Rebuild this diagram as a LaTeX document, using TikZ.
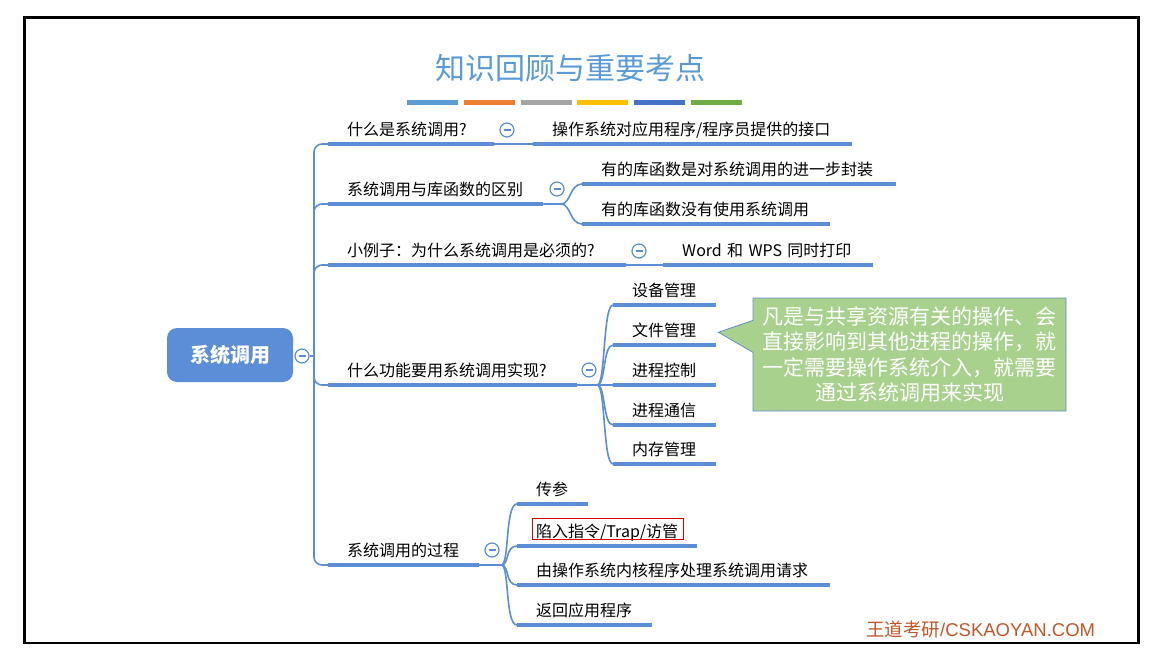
\documentclass[tikz,border=0pt]{standalone}
\usepackage{fontspec}
\setmainfont{Noto Sans CJK SC}
\newfontfamily\latinfont{Liberation Sans}
\usetikzlibrary{shapes.callouts}
\definecolor{linkblue}{RGB}{91,142,214}
\definecolor{titleblue}{HTML}{5B9BD5}
\definecolor{barorange}{HTML}{ED7D31}
\definecolor{bargray}{HTML}{A5A5A5}
\definecolor{baryellow}{HTML}{FFC000}
\definecolor{bardarkblue}{HTML}{4472C4}
\definecolor{bargreen}{HTML}{70AD47}
\definecolor{notegreen}{HTML}{A9D18E}
\definecolor{noteedge}{RGB}{100,140,200}
\definecolor{markred}{RGB}{195,85,40}

\begin{document}
\begin{tikzpicture}[x=1pt, y=-1pt,
  uline/.style={linkblue, line width=4pt},
  link/.style={linkblue, line width=1.6pt},
  topic/.style={anchor=south west, inner xsep=19pt, inner ysep=5pt,
    text height=12pt, text depth=3pt, text width=#1, align=left,
    font=\fontsize{16}{19}\selectfont, text=black,
    append after command={(\tikzlastnode.south west) edge[uline] (\tikzlastnode.south east)}},
  fold/.style={circle, draw=linkblue, fill=white, line width=1.2pt,
    minimum size=14pt, inner sep=0pt,
    path picture={\draw[linkblue, line width=1.2pt]
      ([xshift=-3.5pt]path picture bounding box.center) -- ([xshift=3.5pt]path picture bounding box.center);}}]
  \useasboundingbox (0,0) rectangle (1162,650);
  \draw[line width=2.7pt] (24.5,17.8) rectangle (1138.5,643);

  % title and colour bars
  \node[font=\fontsize{30}{36}\selectfont, text=titleblue] (title) at (570,68) {知识回顾与重要考点};
  \fill[titleblue] (407,100.5) rectangle ++(51,5);
  \fill[barorange] (463.8,100.5) rectangle ++(51,5);
  \fill[bargray] (520.6,100.5) rectangle ++(51,5);
  \fill[baryellow] (577.4,100.5) rectangle ++(51,5);
  \fill[bardarkblue] (634.2,100.5) rectangle ++(51,5);
  \fill[bargreen] (691,100.5) rectangle ++(51,5);

  % root
  \node[fill=linkblue, rounded corners=10pt, minimum width=126pt, minimum height=54pt,
    text=white, font=\fontsize{20}{24}\selectfont\bfseries] (root) at (230,355) {系统调用};
  \node[fold] (c0) at (302,356) {};
  \coordinate (tk) at (314,356);

  % first level
  \node[topic=128pt] (q1) at (328,144) {什么是系统调用?};
  \node[topic=177pt] (q2) at (328,204) {系统调用与库函数的区别};
  \node[topic=260pt] (q3) at (328,265) {小例子：为什么系统调用是必须的?};
  \node[topic=211pt] (q4) at (328,385) {什么功能要用系统调用实现?};
  \node[topic=113pt] (q5) at (328,565) {系统调用的过程};
  \draw[link] (c0.east) -- (tk);
  \draw[link, rounded corners=8pt] (tk) |- (q1.south west);
  \draw[link, rounded corners=8pt] (tk) |- (q2.south west);
  \draw[link, rounded corners=8pt] (tk) |- (q3.south west);
  \draw[link, rounded corners=8pt] (tk) |- (q4.south west);
  \draw[link, rounded corners=8pt] (tk) |- (q5.south west);

  % second level
  \node[topic=281pt] (a1) at (533,144) {操作系统对应用程序/程序员提供的接口};
  \node[topic=276pt] (b1) at (582,184) {有的库函数是对系统调用的进一步封装};
  \node[topic=210pt] (b2) at (582,224) {有的库函数没有使用系统调用};
  \node[topic=172pt] (e1) at (663,265) {Word 和 WPS 同时打印};
  \node[topic=65pt] (f1) at (613,305) {设备管理};
  \node[topic=65pt] (f2) at (613,345) {文件管理};
  \node[topic=65pt] (f3) at (613,385) {进程控制};
  \node[topic=65pt] (f4) at (613,425) {进程通信};
  \node[topic=65pt] (f5) at (613,464) {内存管理};
  \node[topic=33pt] (p1) at (517,504) {传参};
  \node[topic=142pt] (p2) at (517,546) {陷入指令/Trap/访管};
  \node[topic=275pt] (p3) at (517,585) {由操作系统内核程序处理系统调用请求};
  \node[topic=97pt] (p4) at (517,625) {返回应用程序};

  \draw[link] (q1.south east) -- (a1.south west);
  \draw[link] (q2.south east) -- ++(18,0) .. controls +(9,0) and +(-12,0) .. (b1.south west);
  \draw[link] (q2.south east) -- ++(18,0) .. controls +(9,0) and +(-12,0) .. (b2.south west);
  \draw[link] (q3.south east) -- (e1.south west);
  \draw[link] (q4.south east) -- ++(20,0) .. controls +(8,0) and +(-10,0) .. (f1.south west);
  \draw[link] (q4.south east) -- ++(20,0) .. controls +(8,0) and +(-10,0) .. (f2.south west);
  \draw[link] (q4.south east) -- (f3.south west);
  \draw[link] (q4.south east) -- ++(20,0) .. controls +(8,0) and +(-10,0) .. (f4.south west);
  \draw[link] (q4.south east) -- ++(20,0) .. controls +(8,0) and +(-10,0) .. (f5.south west);
  \draw[link] (q5.south east) -- ++(22,0) .. controls +(8,0) and +(-12,0) .. (p1.south west);
  \draw[link] (q5.south east) -- ++(22,0) .. controls +(8,0) and +(-12,0) .. (p2.south west);
  \draw[link] (q5.south east) -- ++(22,0) .. controls +(8,0) and +(-12,0) .. (p3.south west);
  \draw[link] (q5.south east) -- ++(22,0) .. controls +(8,0) and +(-12,0) .. (p4.south west);

  \node[fold] (c1) at (507,130) {};
  \node[fold] (c2) at (557,189) {};
  \node[fold] (c3) at (639,251) {};
  \node[fold] (c4) at (589,370) {};
  \node[fold] (c5) at (492,550) {};

  % highlight and note
  \draw[red!85!black, line width=1pt] ([shift={(15,-7)}]p2.south west) rectangle ([shift={(-14,-28)}]p2.south east);
  \node[rectangle callout, fill=notegreen, draw=noteedge, line width=0.8pt,
    minimum width=313pt, minimum height=113pt, text width=300pt, align=center,
    text=white, font=\fontsize{21}{25.3}\selectfont,
    callout absolute pointer={([xshift=2pt]f2.east)}, callout pointer width=32pt] (tip) at (909.5,354.5)
    {凡是与共享资源有关的操作、会\\直接影响到其他进程的操作，就\\一定需要操作系统介入，就需要\\通过系统调用来实现};

  \node[anchor=west, inner sep=0pt, text=markred, font=\fontsize{18.5}{22}\selectfont] (mark) at (866,629)
    {王道考研{\latinfont/CSKAOYAN.COM}};
\end{tikzpicture}
\end{document}
